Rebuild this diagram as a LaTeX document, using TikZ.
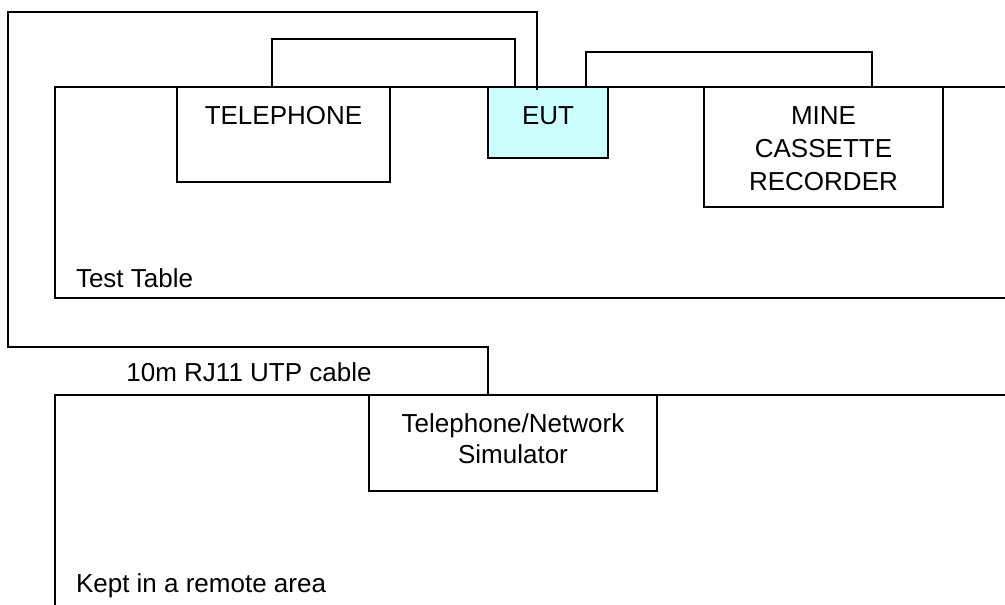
\documentclass[tikz,border=0pt]{standalone}
\usepackage{fontspec}
\setmainfont{Liberation Sans}
\definecolor{eutfill}{HTML}{CCFFFF}
\begin{document}
\begin{tikzpicture}[x=1pt,y=-1pt,
  every node/.style={inner sep=0pt,outer sep=0pt},
  box/.style={draw=black,line width=1.3pt},
  txt/.style={font=\fontsize{26}{33}\selectfont,anchor=base},
  wire/.style={draw=black,line width=1.3pt},
  area/.style={draw=black,line width=1.4pt}]
\useasboundingbox (0,0) rectangle (1005,605);
% areas
\draw[area] (1006,87) -- (55,87) -- (55,298) -- (1006,298);
\draw[area] (1006,395) -- (55,395) -- (55,606);
% boxes
\node[box,minimum width=213pt,minimum height=95pt] (tel) at (283.5,134.5) {};
\node[box,fill=eutfill,minimum width=120pt,minimum height=71pt] (eut) at (548,122.5) {};
\node[box,fill=white,minimum width=239pt,minimum height=120pt] (mine) at (823.5,147) {};
\node[box,fill=white,minimum width=288pt,minimum height=96pt] (sim) at (513,443) {};
% texts
\node[txt] (teltxt) at (283.5,124) {TELEPHONE};
\node[txt] (euttxt) at (548,124) {EUT};
\node[txt,align=center] (minetxt) at (823.5,190) {MINE\\CASSETTE\\RECORDER};
\node[txt,font=\fontsize{26}{31}\selectfont,align=center] (simtxt) at (513,463) {Telephone/Network\\Simulator};
\node[txt,anchor=base west] (tabletxt) at (76,287) {Test Table};
\node[txt,anchor=base west] (remotetxt) at (76,592) {Kept in a remote area};
\node[txt] (cabletxt) at (249,381) {10m RJ11 UTP cable};
% cables
\draw[wire] ([xshift=-11.5pt]tel.north) -- ++(0,-48) -| ([xshift=27pt]eut.north west);
\draw[wire] ([xshift=-22pt]eut.north east) -- ++(0,-35) -| ([xshift=168pt]mine.north west);
\draw[wire] ([xshift=49pt,yshift=-3pt]eut.north west) -- (537,12) -- (8,12) -- (8,347) -| ([xshift=119pt]sim.north west);
\end{tikzpicture}
\end{document}
